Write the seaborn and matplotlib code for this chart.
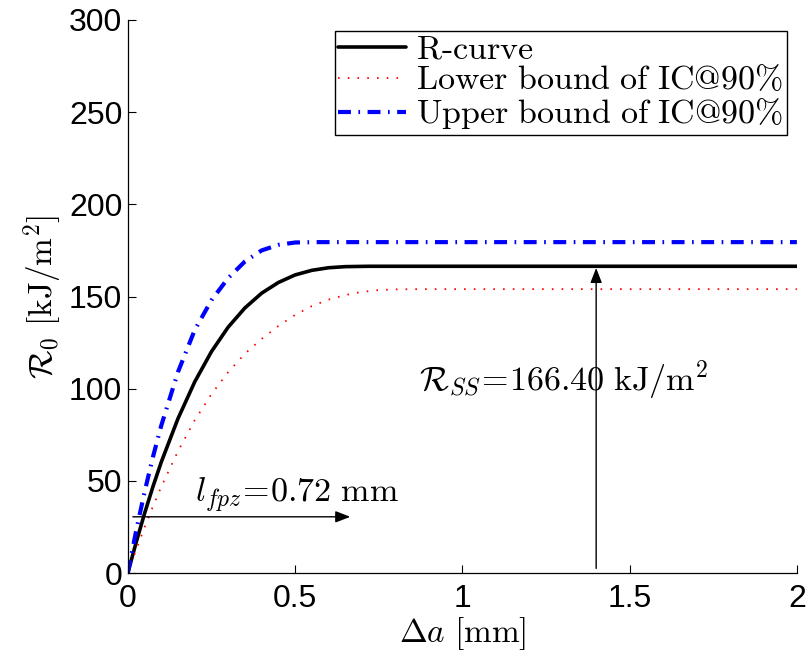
import numpy as np
import pandas as pd
import matplotlib
matplotlib.use("Agg")
import matplotlib.pyplot as plt
import seaborn as sns

# ---- data ----
a_black = [0, 0.025, 0.05, 0.075, 0.1, 0.15, 0.2, 0.25, 0.3, 0.35, 0.4, 0.45, 0.5, 0.55, 0.6, 0.65, 0.72, 2.0]
r_black = [0, 16.7, 32.3, 46.8, 60.2, 83.8, 103.7, 120.1, 133.4, 143.8, 151.8, 157.6, 161.7, 164.2, 165.6, 166.2, 166.4, 166.4]

a_lower = [0, 0.025, 0.05, 0.075, 0.1, 0.15, 0.2, 0.25, 0.3, 0.35, 0.4, 0.45, 0.5, 0.55, 0.6, 0.65, 0.7, 0.75, 0.8, 0.88, 2.0]
r_lower = [0, 12.7, 24.8, 36.1, 46.8, 66.1, 82.9, 97.0, 109.0, 119.0, 127.0, 134.0, 140.0, 144.8, 148.3, 150.8, 152.5, 153.5, 153.9, 154.0, 154.0]

a_upper = [0, 0.025, 0.05, 0.075, 0.1, 0.15, 0.2, 0.25, 0.3, 0.35, 0.4, 0.45, 0.5, 0.56, 2.0]
r_upper = [0, 23.0, 43.9, 62.9, 80.0, 109.1, 131.8, 148.0, 160.0, 169.0, 175.0, 178.0, 179.3, 179.5, 179.5]

series_labels = [r'$\mathrm{R\text{-}curve}$',
                 r'$\mathrm{Lower\ bound\ of\ IC@90\%}$',
                 r'$\mathrm{Upper\ bound\ of\ IC@90\%}$']

x_ticks = [0, 0.5, 1, 1.5, 2]
x_tick_labels = ['0', '0.5', '1', '1.5', '2']
y_ticks = [0, 50, 100, 150, 200, 250, 300]

l_fpz = 0.72
R_ss = 166.40

# ---- style ----
sns.set_style("ticks")
plt.rcParams['font.family'] = ['Liberation Sans', 'DejaVu Sans']
plt.rcParams['mathtext.fontset'] = 'cm'
plt.rcParams['xtick.direction'] = 'in'
plt.rcParams['ytick.direction'] = 'in'
for k in ['text.color', 'axes.labelcolor', 'xtick.color', 'ytick.color', 'axes.edgecolor']:
    plt.rcParams[k] = 'black'

fig = plt.figure(figsize=(8.09, 6.62), dpi=100)
ax = fig.add_axes([0.158, 0.1344, 0.827, 0.8354])

df_b = pd.DataFrame({'a': a_black, 'r': r_black})
df_l = pd.DataFrame({'a': a_lower, 'r': r_lower})
df_u = pd.DataFrame({'a': a_upper, 'r': r_upper})

sns.lineplot(data=df_b, x='a', y='r', ax=ax, color='black', lw=2.6,
             label=series_labels[0], estimator=None, sort=False)
sns.lineplot(data=df_l, x='a', y='r', ax=ax, color='red', lw=1.3,
             linestyle=(0, (0.9, 4.5)), label=series_labels[1], estimator=None, sort=False)
sns.lineplot(data=df_u, x='a', y='r', ax=ax, color='blue', lw=3.0,
             linestyle=(0, (3.1, 1.8, 0.4, 1.8)), label=series_labels[2], estimator=None, sort=False)

ax.set_xlim(0, 2)
ax.set_ylim(0, 300)
ax.set_xticks(x_ticks)
ax.set_xticklabels(x_tick_labels)
ax.set_yticks(y_ticks)
ax.tick_params(labelsize=23, length=6, width=0.8)
ax.tick_params(axis='x', pad=8)
ax.tick_params(axis='y', pad=4)
for s in ['top', 'right']:
    ax.spines[s].set_visible(False)
for s in ['left', 'bottom']:
    ax.spines[s].set_linewidth(0.9)

ax.set_xlabel(r'$\Delta a\ [\mathrm{mm}]$', fontsize=24, labelpad=1)
ax.set_ylabel(r'$\mathcal{R}_0\ [\mathrm{kJ/m}^2]$', fontsize=24, labelpad=3)

# annotations
ax.annotate('', xy=(0.665, 30.5), xytext=(0.015, 30.5),
            arrowprops=dict(arrowstyle='-|>,head_length=0.9,head_width=0.35',
                            color='black', lw=1.0, shrinkA=0, shrinkB=0))
ax.text(0.2, 39, r'$l_{fpz}\!=\!0.72\ \mathrm{mm}$', fontsize=24.5, ha='left', va='baseline')

ax.annotate('', xy=(1.4, 165.5), xytext=(1.4, 2.5),
            arrowprops=dict(arrowstyle='-|>,head_length=0.9,head_width=0.35',
                            color='black', lw=1.0, shrinkA=0, shrinkB=0))
ax.text(0.87, 99, r'$\mathcal{R}_{SS}\!=\!166.40\ \mathrm{kJ/m}^2$', fontsize=24.5, ha='left', va='baseline')

leg = ax.legend(loc='upper right', bbox_to_anchor=(0.985, 0.98), fontsize=24.5,
                frameon=True, fancybox=False, edgecolor='black', framealpha=1,
                handlelength=2.0, handletextpad=0.3, labelspacing=0.0,
                borderpad=0.1, borderaxespad=0.0)
leg.get_frame().set_linewidth(1.0)

fig.savefig('out.png', dpi=100)
